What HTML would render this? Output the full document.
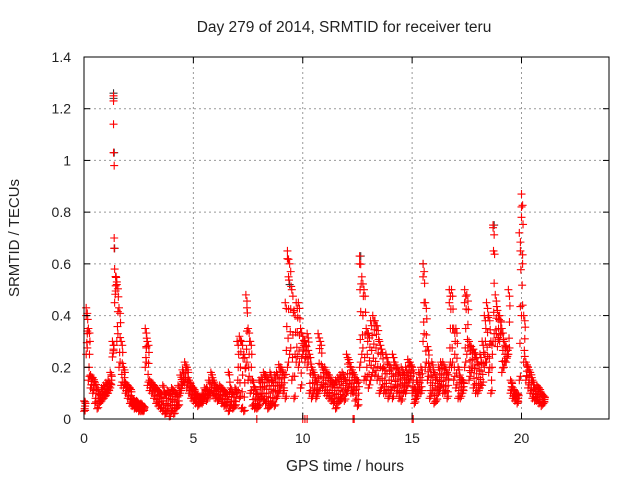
<!DOCTYPE html>
<html><head><meta charset="utf-8"><style>
body{margin:0;background:#fff}
svg text{font-family:"Liberation Sans",sans-serif;font-size:14px;fill:#222}
</style></head><body>
<svg id="c" width="640" height="480">
<rect width="640" height="480" fill="#fff"/>
<g id="grid"></g>
<g id="pts"></g>
<rect x="84" y="57" width="525" height="362" fill="none" stroke="#000" stroke-width="1"/>
<g id="ticks"></g>
<text x="344" y="32" text-anchor="middle" style="font-size:15.5px">Day 279 of 2014, SRMTID for receiver teru</text>
<text x="345" y="471" text-anchor="middle" style="font-size:15.5px">GPS time / hours</text>
<text x="19" y="238" text-anchor="middle" style="font-size:15px" transform="rotate(-90 19 238)">SRMTID / TECUs</text>
</svg>
<script>
const xTicks=[0,5,10,15,20];
const yTicks=[0,0.2,0.4,0.6,0.8,1,1.2,1.4];
const yTickLabels=["0","0.2","0.4","0.6","0.8","1","1.2","1.4"];
const t0=0, dt=0.1;
const hi=[0.07,0.43,0.35,0.17,0.16,0.14,0.12,0.1,0.12,0.13,
0.14,0.15,0.18,0.3,0.58,0.53,0.43,0.3,0.2,0.14,
0.13,0.12,0.08,0.07,0.07,0.06,0.06,0.05,0.35,0.3,
0.15,0.14,0.13,0.12,0.11,0.1,0.13,0.1,0.11,0.1,
0.12,0.11,0.1,0.13,0.17,0.19,0.22,0.2,0.15,0.13,
0.12,0.1,0.09,0.08,0.1,0.12,0.12,0.15,0.18,0.15,
0.13,0.12,0.13,0.12,0.11,0.1,0.18,0.12,0.1,0.12,
0.3,0.32,0.3,0.25,0.48,0.35,0.3,0.15,0.12,0.1,
0.15,0.16,0.18,0.17,0.16,0.18,0.15,0.17,0.18,0.21,
0.2,0.18,0.45,0.65,0.6,0.5,0.42,0.45,0.45,0.35,
0.32,0.3,0.33,0.25,0.2,0.18,0.15,0.33,0.3,0.2,
0.2,0.18,0.17,0.15,0.14,0.15,0.16,0.17,0.18,0.16,
0.25,0.23,0.2,0.18,0.16,0.15,0.63,0.55,0.5,0.35,
0.33,0.38,0.4,0.38,0.36,0.3,0.27,0.2,0.25,0.22,
0.2,0.25,0.22,0.2,0.18,0.2,0.18,0.2,0.23,0.22,
0.2,0.12,0.15,0.18,0.2,0.6,0.45,0.28,0.2,0.22,
0.18,0.16,0.2,0.22,0.22,0.2,0.18,0.5,0.5,0.35,
0.35,0.2,0.16,0.15,0.5,0.48,0.3,0.28,0.27,0.25,
0.22,0.25,0.3,0.4,0.45,0.4,0.3,0.75,0.48,0.42,
0.4,0.35,0.3,0.28,0.5,0.15,0.12,0.1,0.1,0.72,
0.87,0.4,0.22,0.2,0.18,0.15,0.12,0.13,0.12,0.1,0.09];
const lo=[0.03,0.25,0.15,0.12,0.1,0.06,0.04,0.06,0.07,0.08,
0.09,0.1,0.12,0.24,0.45,0.3,0.2,0.13,0.12,0.1,
0.08,0.06,0.05,0.04,0.04,0.03,0.03,0.03,0.2,0.13,
0.11,0.1,0.08,0.06,0.05,0.04,0.03,0.02,0.03,0.01,
0.03,0.02,0.04,0.05,0.1,0.13,0.14,0.12,0.1,0.08,
0.07,0.06,0.05,0.06,0.06,0.08,0.07,0.09,0.1,0.09,
0.08,0.07,0.08,0.06,0.05,0.05,0.03,0.05,0.04,0.05,
0.1,0.08,0.04,0.03,0.2,0.15,0.1,0.05,0.04,0.04,
0.05,0.08,0.07,0.06,0.04,0.05,0.06,0.05,0.08,0.1,
0.12,0.1,0.08,0.2,0.25,0.15,0.08,0.22,0.2,0.12,
0.25,0.22,0.2,0.1,0.08,0.1,0.08,0.1,0.12,0.12,
0.1,0.09,0.08,0.07,0.06,0.04,0.06,0.07,0.08,0.07,
0.1,0.12,0.1,0.1,0.07,0.05,0.2,0.25,0.15,0.15,
0.12,0.15,0.18,0.17,0.15,0.1,0.12,0.1,0.1,0.08,
0.1,0.08,0.12,0.1,0.08,0.07,0.1,0.1,0.13,0.15,
0.1,0.06,0.08,0.1,0.1,0.3,0.2,0.15,0.08,0.1,
0.06,0.07,0.1,0.12,0.1,0.1,0.08,0.2,0.2,0.15,
0.12,0.08,0.08,0.1,0.2,0.25,0.15,0.18,0.12,0.1,
0.1,0.12,0.13,0.2,0.22,0.18,0.1,0.3,0.3,0.28,
0.3,0.18,0.2,0.22,0.25,0.1,0.08,0.07,0.06,0.15,
0.4,0.22,0.15,0.12,0.1,0.08,0.07,0.07,0.06,0.05,0.06];
const extraT=[1.35,1.35,1.35,1.35,1.38,1.38,1.38,1.45,1.5,20.0,20.0,19.95,20.05,9.3,9.35,12.6,12.62,18.7,18.72,0.1,0.15,10.0,10.1,10.2,12.3,12.35,15.0,15.05,7.9,2.85,7.45,15.5,16.7,17.4];
const extraV=[1.25,1.23,1.14,1.03,0.98,0.7,0.66,0.55,0.52,0.82,0.78,0.65,0.6,0.62,0.55,0.6,0.5,0.74,0.65,0.4,0.33,0,0,0,0,0,0,0,0,0.28,0.43,0.55,0.45,0.45];
const blackT=[1.35,1.35,1.38,1.4,18.75,9.4,12.65,15.5];
const blackV=[1.26,1.24,1.03,0.66,0.75,0.52,0.63,0.6];

const X=v=>84+v*(525/24), Y=v=>419-v*(362/1.4);
const NS="http://www.w3.org/2000/svg";
const grid=document.getElementById('grid'), ticks=document.getElementById('ticks'), pts=document.getElementById('pts');
function mk(tag,attrs,parent){const e=document.createElementNS(NS,tag);for(const k in attrs)e.setAttribute(k,attrs[k]);parent.appendChild(e);return e;}
xTicks.forEach(v=>{
  if(v>0){const g=mk('line',{x1:X(v),x2:X(v),y1:57,y2:419,stroke:'#999','stroke-dasharray':'2,3'},grid);
  
  }
  mk('line',{x1:X(v),x2:X(v),y1:419,y2:413,stroke:'#000'},ticks);
  mk('line',{x1:X(v),x2:X(v),y1:57,y2:63,stroke:'#000'},ticks);
  const t=mk('text',{x:X(v),y:443,'text-anchor':'middle'},ticks);t.textContent=v;
  
  
});
yTicks.forEach((v,i)=>{
  if(v>0&&v<1.4){const g=mk('line',{x1:84,x2:609,y1:Y(v),y2:Y(v),stroke:'#999','stroke-dasharray':'2,3'},grid);
  
  }
  mk('line',{x1:84,x2:90,y1:Y(v),y2:Y(v),stroke:'#000'},ticks);
  mk('line',{x1:603,x2:609,y1:Y(v),y2:Y(v),stroke:'#000'},ticks);
  const t=mk('text',{x:71,y:Y(v)+5,'text-anchor':'end'},ticks);t.textContent=yTickLabels[i];
  
  
});
function plus(t,v,col){
  const x=X(t),y=Y(v);
  const p=mk('path',{d:`M${x-4},${y}h8M${x},${y-4}v8`,stroke:col,'stroke-width':1.1,fill:'none'},pts);
  
  
}
blackT.forEach((t,i)=>plus(t,blackV[i],'#333'));
hi.forEach((v,i)=>{
  const t=t0+i*dt, l=lo[i];
  plus(t,v,'#f00');
  plus(t+0.05,(v+l)/2,'#f00');
  plus(t+0.03,l+(v-l)*0.25,'#f00');
  plus(t+0.07,l+(v-l)*0.75,'#f00');
  plus(t+0.05,v*0.95,'#f00');
});
lo.forEach((v,i)=>{plus(t0+i*dt,v,'#f00');plus(t0+i*dt+0.05,v*1.1,'#f00');});
extraT.forEach((t,i)=>plus(t,extraV[i],'#f00'));
</script>
</body></html>
